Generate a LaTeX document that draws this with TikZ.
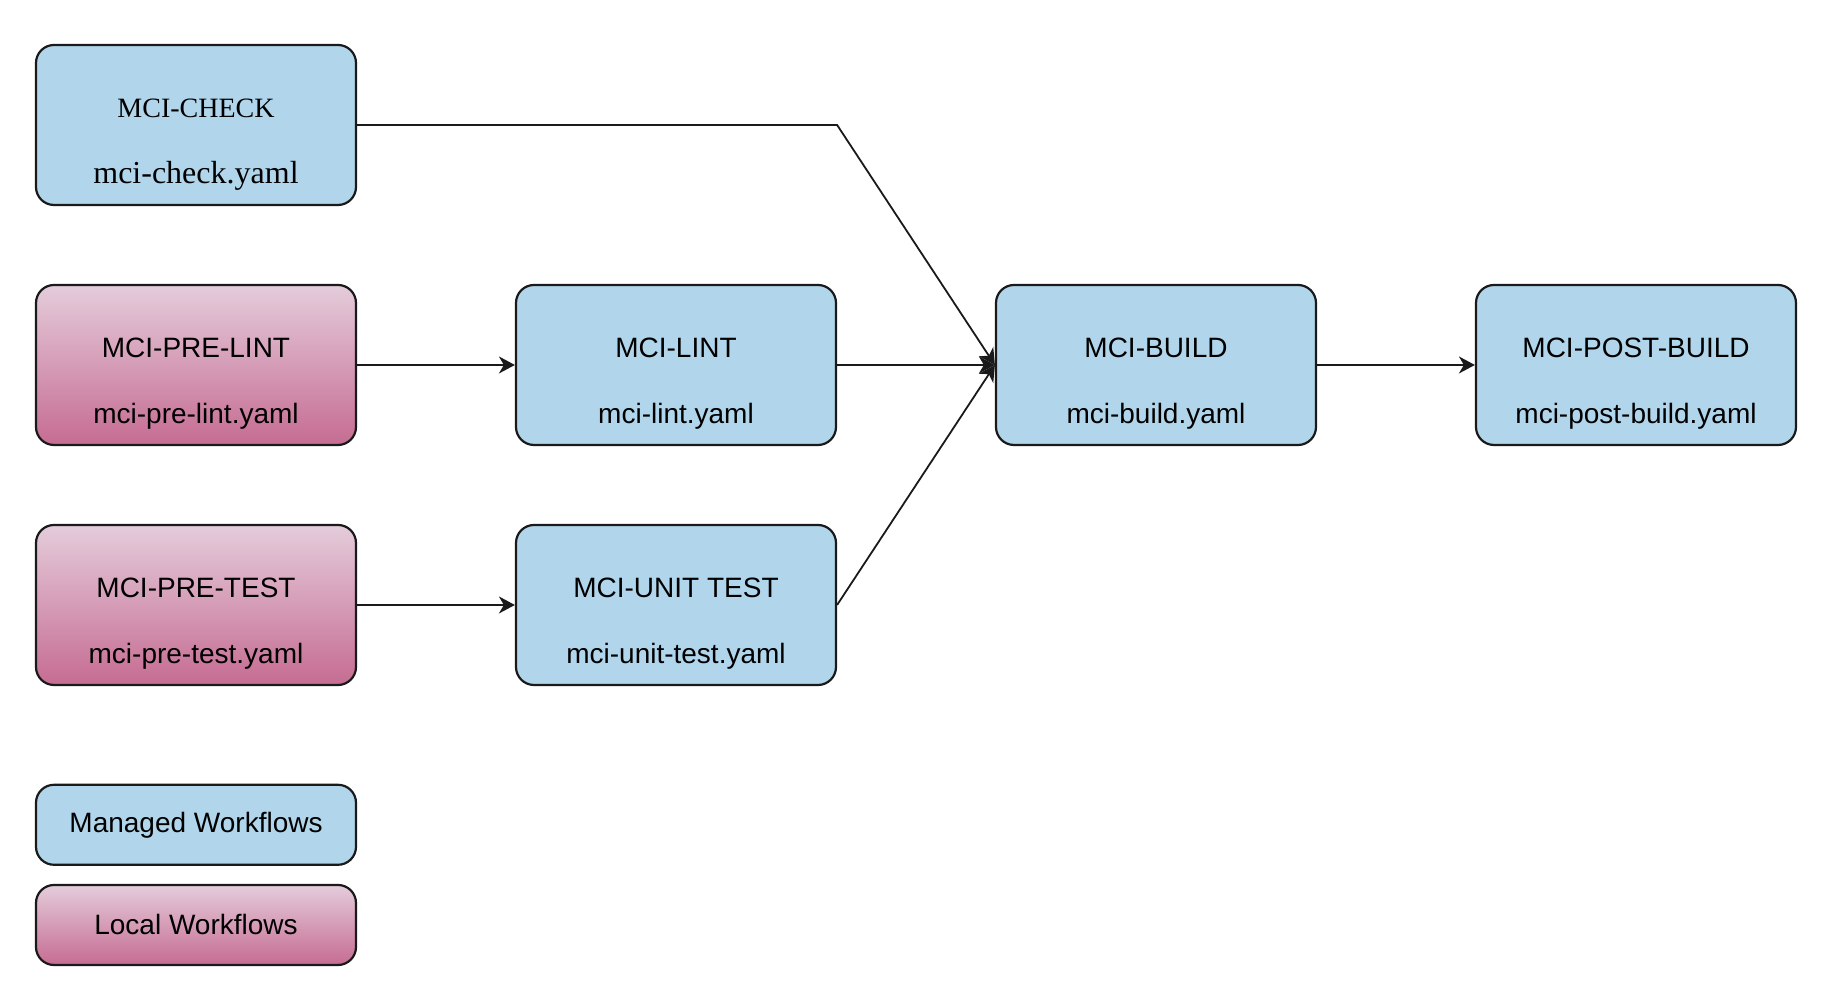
\documentclass[tikz,border=0pt]{standalone}
\usepackage{fontspec}
\setmainfont{Liberation Sans}
\newfontfamily\timesfont{Liberation Serif}
\usetikzlibrary{arrows.meta}
\definecolor{managed}{HTML}{B1D6EC}
\definecolor{localtop}{HTML}{E4CCDB}
\definecolor{localbot}{HTML}{C66C92}
\definecolor{edgecol}{HTML}{1A1A1A}

\begin{document}
\begin{tikzpicture}[x=1pt,y=1pt,
    box/.style={draw=edgecol, line width=1.1pt, rounded corners=9pt, minimum width=160pt, minimum height=80pt, inner sep=0pt},
    managedbox/.style={box, fill=managed},
    localbox/.style={box, top color=localtop, bottom color=localbot},
    keybox/.style={minimum height=40pt, font=\fontsize{14}{16}\selectfont},
    wftext/.style={anchor=base, inner sep=0pt, font=\fontsize{14}{16}\selectfont},
    flow/.style={draw=edgecol, line width=0.9pt, -{Stealth[length=8pt,width=8.5pt,inset=2.5pt]}}]
    \useasboundingbox (0,0) rectangle (911,502);

    % workflow boxes
    \node[managedbox] (check) at (98,439.5) {};
    \node[localbox] (prelint) at (98,319.5) {};
    \node[localbox] (pretest) at (98,199.5) {};
    \node[managedbox] (lint) at (338,319.5) {};
    \node[managedbox] (unit) at (338,199.5) {};
    \node[managedbox] (build) at (578,319.5) {};
    \node[managedbox] (postbuild) at (818,319.5) {};

    \node[wftext, font=\fontsize{14}{16}\timesfont] (checkT) at (98,443) {MCI-CHECK};
    \node[wftext, font=\fontsize{16}{18}\timesfont] (checkF) at (98,410) {mci-check.yaml};
    \node[wftext] (prelintT) at (98,323) {MCI-PRE-LINT};
    \node[wftext] (prelintF) at (98,290) {mci-pre-lint.yaml};
    \node[wftext] (pretestT) at (98,203) {MCI-PRE-TEST};
    \node[wftext] (pretestF) at (98,170) {mci-pre-test.yaml};
    \node[wftext] (lintT) at (338,323) {MCI-LINT};
    \node[wftext] (lintF) at (338,290) {mci-lint.yaml};
    \node[wftext] (unitT) at (338,203) {MCI-UNIT TEST};
    \node[wftext] (unitF) at (338,170) {mci-unit-test.yaml};
    \node[wftext] (buildT) at (578,323) {MCI-BUILD};
    \node[wftext] (buildF) at (578,290) {mci-build.yaml};
    \node[wftext] (postbuildT) at (818,323) {MCI-POST-BUILD};
    \node[wftext] (postbuildF) at (818,290) {mci-post-build.yaml};

    % legend
    \node[managedbox, keybox] (keymanaged) at (98,89.6) {Managed Workflows};
    \node[localbox, keybox] (keylocal) at (98,39.5) {Local Workflows};

    % connectors
    \draw[flow] (check.east) -- (check.east -| lint.east) -- (build.west);
    \draw[flow] (prelint) -- (lint);
    \draw[flow] (lint) -- (build);
    \draw[flow] (pretest) -- (unit);
    \draw[flow] (unit.east) -- (build.west);
    \draw[flow] (build) -- (postbuild);
\end{tikzpicture}
\end{document}
